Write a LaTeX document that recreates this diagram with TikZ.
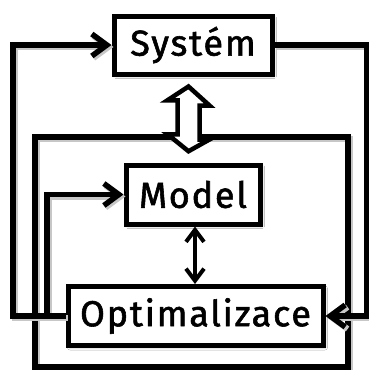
\documentclass[tikz,border=0pt]{standalone}
\usepackage{fontspec}
\setmainfont{Fira Sans}
\newfontfamily\labfont{Fira Sans}[FakeBold=1.6, LetterSpace=5]
\usetikzlibrary{arrows.meta,shadows.blur,calc}
\tikzset{
  box/.style={draw, fill=white, line width=5pt, inner sep=0pt,
    font=\labfont\fontsize{36}{36}\selectfont,
    blur shadow={shadow xshift=2pt, shadow yshift=-2pt, shadow blur radius=2.5pt, shadow opacity=35}},
  conn/.style={line width=5.5pt,
    preaction={draw=black!22, line width=6pt, transform canvas={xshift=2pt,yshift=-2pt}}},
  barb/.style={-{Straight Barb[length=15pt,width=22pt]}},
  thinconn/.style={line width=4pt, {Straight Barb[length=12pt,width=18pt]}-{Straight Barb[length=12pt,width=18pt]}},
}
\begin{document}
\begin{tikzpicture}[x=1pt,y=-1pt]
\useasboundingbox (0,0) rectangle (368,370);
\fill[white] (0,0) rectangle (368,370);
% outer frame
\node[draw, line width=5.5pt, minimum width=313pt, minimum height=230pt, inner sep=0pt,
  preaction={draw=black!22, line width=6pt, transform canvas={xshift=2pt,yshift=-2pt}}] (frame) at (191.5,252) {};
% nodes
\node[box, minimum width=158pt, minimum height=58pt] (sys) at (193,45) {Systém};
\node[box, minimum width=134pt, minimum height=59pt] (mod) at (193,194.5) {Model};
\node[box, minimum width=255pt, minimum height=59pt] (opt) at (195.5,316) {Optimalizace};
% coordinates for loop columns
\coordinate (L1) at (13,0);
\coordinate (L2) at (47,0);
\coordinate (R) at (367,0);
% connectors
\draw[conn, barb] (opt.west) -- (opt.west -| L1) |- (sys.west);
\draw[conn, barb] (opt.west) -- (opt.west -| L2) |- (mod.west);
\draw[conn, barb] (sys.east) -| (R |- opt.east) -- (opt.east);
\draw[thinconn] ([xshift=2pt]mod.south) -- ([xshift=2pt]mod.south |- opt.north);
% hollow double arrow between system and frame
\coordinate (hc) at (188.5,0);
\draw[line width=4.5pt, fill=white, line join=miter]
  ($(hc |- sys.south)+(0,10)$) -- ++(21,19) -- ++(-10,0) -- ++(0,34) -- ++(10,0)
  -- ($(hc |- frame.north)+(0,17)$) -- ++(-21,-17) -- ++(10,0) -- ++(0,-34) -- ++(-10,0) -- cycle;
\end{tikzpicture}
\end{document}
